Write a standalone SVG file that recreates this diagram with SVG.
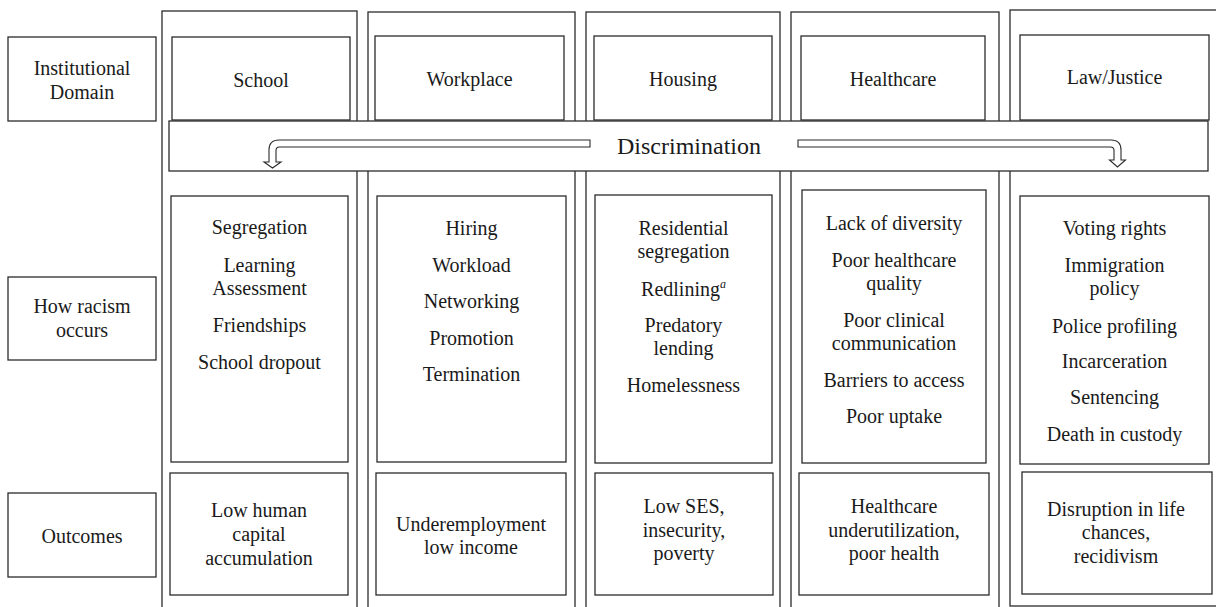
<svg xmlns="http://www.w3.org/2000/svg" width="1216" height="607" viewBox="0 0 1216 607">
  <style>
    .frame { fill: none; stroke: #2b2b2b; stroke-width: 1.3; }
    .box { fill: #fff; stroke: #2b2b2b; stroke-width: 1.3; }
    .bar { fill: #fff; stroke: #2b2b2b; stroke-width: 1.3; }
    .arrow { fill: #fff; stroke: #2b2b2b; stroke-width: 1.1; stroke-linejoin: miter; }
    text { font-family: "Liberation Serif", "Times New Roman", serif; font-size: 20px; fill: #1a1a1a; text-anchor: middle; }
    .big { font-size: 24px; }
    .sup { font-size: 12px; font-style: italic; }
  </style>
  <rect width="1216" height="607" fill="#fff"/>

  <!-- row labels -->
  <g id="label-domain">
    <rect class="box" x="8" y="37" width="148" height="84"/>
    <text x="82" y="75">Institutional</text>
    <text x="82" y="99">Domain</text>
  </g>
  <g id="label-how">
    <rect class="box" x="8" y="277" width="148" height="83"/>
    <text x="82" y="313">How racism</text>
    <text x="82" y="337">occurs</text>
  </g>
  <g id="label-outcomes">
    <rect class="box" x="8" y="493" width="148" height="84"/>
    <text x="82" y="543">Outcomes</text>
  </g>

  <!-- column frames -->
  <g id="columns">
    <rect class="frame" x="162" y="11" width="195" height="610"/>
    <rect class="frame" x="368" y="12" width="207" height="610"/>
    <rect class="frame" x="586" y="12" width="194" height="610"/>
    <rect class="frame" x="791" y="12" width="208" height="610"/>
    <rect class="frame" x="1010" y="10" width="215" height="596"/>
  </g>

  <!-- School -->
  <g id="school">
    <rect class="box" x="172" y="37" width="178" height="83"/>
    <text x="261" y="87">School</text>
    <rect class="box" x="171" y="196" width="177" height="266"/>
    <text x="259.5" y="234">Segregation</text>
    <text x="259.5" y="272">Learning</text>
    <text x="259.5" y="295">Assessment</text>
    <text x="259.5" y="332">Friendships</text>
    <text x="259.5" y="369">School dropout</text>
    <rect class="box" x="170" y="473" width="178" height="122"/>
    <text x="259" y="517">Low human</text>
    <text x="259" y="541">capital</text>
    <text x="259" y="565">accumulation</text>
  </g>

  <!-- Workplace -->
  <g id="workplace">
    <rect class="box" x="375" y="36" width="189" height="84"/>
    <text x="469.5" y="86">Workplace</text>
    <rect class="box" x="377" y="196" width="189" height="266"/>
    <text x="471.5" y="235">Hiring</text>
    <text x="471.5" y="272">Workload</text>
    <text x="471.5" y="308">Networking</text>
    <text x="471.5" y="345">Promotion</text>
    <text x="471.5" y="381">Termination</text>
    <rect class="box" x="376" y="473" width="190" height="122"/>
    <text x="471" y="531">Underemployment</text>
    <text x="471" y="554">low income</text>
  </g>

  <!-- Housing -->
  <g id="housing">
    <rect class="box" x="594" y="36" width="178" height="84"/>
    <text x="683" y="86">Housing</text>
    <rect class="box" x="595" y="195" width="177" height="268"/>
    <text x="683.5" y="235">Residential</text>
    <text x="683.5" y="258">segregation</text>
    <text x="683.5" y="296">Redlining<tspan class="sup" dy="-8">a</tspan></text>
    <text x="683.5" y="332">Predatory</text>
    <text x="683.5" y="355">lending</text>
    <text x="683.5" y="392">Homelessness</text>
    <rect class="box" x="595" y="473" width="178" height="122"/>
    <text x="684" y="513">Low SES,</text>
    <text x="684" y="537">insecurity,</text>
    <text x="684" y="560">poverty</text>
  </g>

  <!-- Healthcare -->
  <g id="healthcare">
    <rect class="box" x="801" y="36" width="184" height="84"/>
    <text x="893" y="86">Healthcare</text>
    <rect class="box" x="802" y="190" width="184" height="273"/>
    <text x="894" y="230">Lack of diversity</text>
    <text x="894" y="267">Poor healthcare</text>
    <text x="894" y="290">quality</text>
    <text x="894" y="327">Poor clinical</text>
    <text x="894" y="350">communication</text>
    <text x="894" y="387">Barriers to access</text>
    <text x="894" y="423">Poor uptake</text>
    <rect class="box" x="799" y="473" width="190" height="122"/>
    <text x="894" y="513">Healthcare</text>
    <text x="894" y="537">underutilization,</text>
    <text x="894" y="560">poor health</text>
  </g>

  <!-- Law/Justice -->
  <g id="law-justice">
    <rect class="box" x="1020" y="35" width="189" height="85"/>
    <text x="1114.5" y="84">Law/Justice</text>
    <rect class="box" x="1020" y="196" width="189" height="268"/>
    <text x="1114.5" y="235">Voting rights</text>
    <text x="1114.5" y="272">Immigration</text>
    <text x="1114.5" y="295">policy</text>
    <text x="1114.5" y="333">Police profiling</text>
    <text x="1114.5" y="368">Incarceration</text>
    <text x="1114.5" y="404">Sentencing</text>
    <text x="1114.5" y="441">Death in custody</text>
    <rect class="box" x="1022" y="472" width="190" height="122"/>
    <text x="1116" y="516">Disruption in life</text>
    <text x="1116" y="539">chances,</text>
    <text x="1116" y="563">recidivism</text>
  </g>

  <!-- Discrimination band spanning all domains -->
  <g id="discrimination">
    <rect class="bar" x="169" y="121" width="1039" height="50"/>
    <text class="big" x="689" y="154">Discrimination</text>
  </g>

  <!-- hollow bent arrows carrying discrimination into the domains -->
  <g id="connectors">
    <path class="arrow" d="M 590 140 L 279 140 Q 269 140 269 150 L 269 162 L 264 162 L 272.5 168 L 281 162 L 276 162 L 276 150.5 Q 276 147 279.5 147 L 590 147 Z"/>
    <path class="arrow" d="M 798 140 L 1111 140 Q 1121 140 1121 150 L 1121 160 L 1125.5 160 L 1117.5 167 L 1109.5 160 L 1114 160 L 1114 150.5 Q 1114 147 1110.5 147 L 798 147 Z"/>
  </g>
</svg>
